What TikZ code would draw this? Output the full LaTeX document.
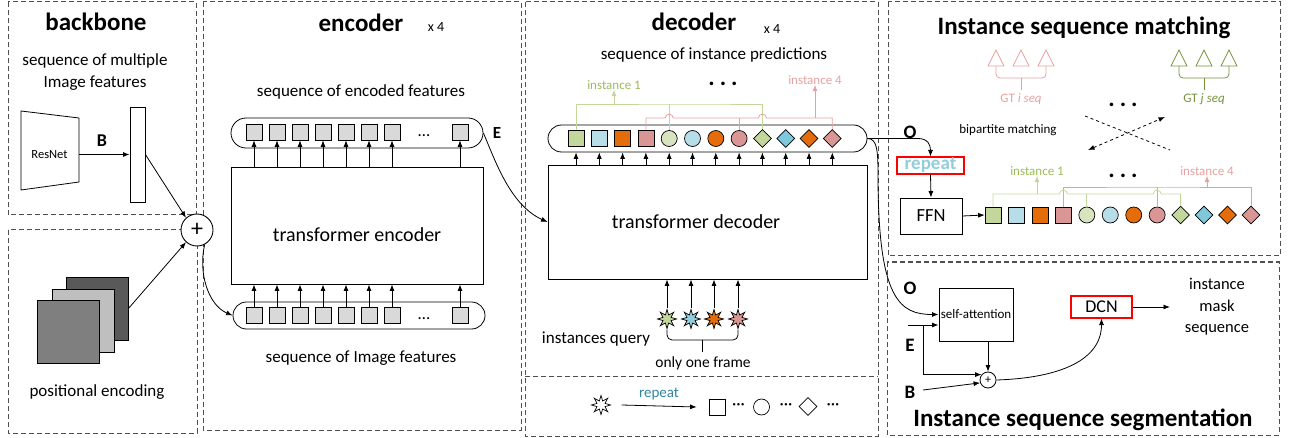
\documentclass[tikz,border=0pt]{standalone}
\usepackage{fontspec}
\setmainfont{Carlito}
\usetikzlibrary{shapes.geometric,arrows.meta,calc}
\definecolor{pedark}{HTML}{595959}
\definecolor{pemid}{HTML}{7F7F7F}
\definecolor{pelight}{HTML}{BFBFBF}
\definecolor{cellgray}{HTML}{D9D9D9}
\definecolor{cgreen}{HTML}{C3D69B}
\definecolor{clgreen}{HTML}{D7E4BD}
\definecolor{cblue}{HTML}{B7DEE8}
\definecolor{cdblue}{HTML}{7FC7DB}
\definecolor{corange}{HTML}{E46C0A}
\definecolor{cpink}{HTML}{D99694}
\definecolor{lgreenline}{HTML}{C3D69B}
\definecolor{tgreen}{HTML}{9BBB59}
\definecolor{dgreen}{HTML}{77933C}
\definecolor{lpink}{HTML}{E6A19F}
\definecolor{tteal}{HTML}{31859C}
\definecolor{trep}{HTML}{92CDDC}
\definecolor{panelgray}{HTML}{505050}
\tikzset{
 panel/.style={draw=panelgray, line width=1pt, dash pattern=on 5pt off 3pt},
 arr/.style={-{Latex[length=6.5pt,width=5pt]}, line width=0.8pt},
 ln/.style={line width=0.8pt},
 txt/.style={font=\fontsize{17}{20.5}\selectfont, inner sep=0pt},
 ttl/.style={font=\bfseries\fontsize{25}{30}\selectfont, inner sep=0pt},
 small/.style={font=\fontsize{13}{15}\selectfont, inner sep=0pt},
 lbl/.style={font=\bfseries\fontsize{19}{22}\selectfont, inner sep=0pt},
 dotsb/.style={font=\bfseries\fontsize{24}{24}\selectfont, inner sep=0pt},
 seqbox/.style={draw, line width=0.8pt, rounded corners=13.5pt, minimum width=#1, minimum height=27pt, inner sep=0pt},
 isq/.style={draw, fill=#1, rectangle, minimum size=16pt, inner sep=0pt, line width=0.7pt},
 icirc/.style={draw, fill=#1, circle, minimum size=16pt, inner sep=0pt, line width=0.7pt},
 idia/.style={draw, fill=#1, diamond, minimum size=18pt, inner sep=0pt, line width=0.7pt},
 qstar/.style={draw, fill=#1, star, star points=8, star point ratio=2.2, minimum size=19pt, inner sep=0pt, line width=0.7pt},
 boxn/.style={draw, line width=0.9pt, inner sep=0pt},
 redbox/.style={draw=red, line width=1.1pt, inner sep=0pt},
}
\begin{document}
\begin{tikzpicture}[x=1pt,y=-1pt]
\useasboundingbox (0,0) rectangle (1292,438);
% ---------- panels
\draw[panel] (8,2) rectangle (196,215);
\draw[panel] (8,230) rectangle (197,433);
\draw[panel] (203,2) rectangle (521,430);
\draw[panel] (525,2) rectangle (878,436);
\draw[panel] (525,376) -- (878,376);
\draw[panel] (888,2) rectangle (1280,256);
\draw[panel] (887,262) rectangle (1279,435);

% ---------- backbone
\node[ttl] (bbT) at (96,22) {backbone};
\node[txt, align=center] (bbS) at (95,72) {sequence of multiple\\[1pt]Image features};
\draw[ln] (21,111) -- (79,118) -- (79,182) -- (21,190) -- cycle;
\node[font=\fontsize{12.5}{15}\selectfont, inner sep=0pt] (resnet) at (49.5,155) {ResNet};
\coordinate (rnOut) at (79,154.5);
\node[boxn, minimum width=15pt, minimum height=95pt] (feat) at (137.5,154.5) {};
\draw[arr] (rnOut) -- (feat.west);
\node[font=\bfseries\fontsize{18}{20}\selectfont, inner sep=0pt] (labB) at (102,141) {B};

% ---------- positional encoding
\node[boxn, fill=pedark, minimum width=62pt, minimum height=63pt] (pe3) at (97,308.5) {};
\node[boxn, fill=pelight, minimum width=62pt, minimum height=63pt] (pe2) at (83,320.5) {};
\node[boxn, fill=pemid, minimum width=62pt, minimum height=63pt] (pe1) at (68,332) {};
\node[txt] (peT) at (97,392) {positional encoding};

\node[circle, draw, line width=0.9pt, fill=white, minimum size=32pt, inner sep=0pt, font=\fontsize{24}{24}\selectfont] (plus) at (197,230) {+};
\draw[arr] (feat.east) -- (plus.132);
\draw[arr] (pe3.east) -- (plus.228);

% ---------- encoder
\node[ttl] (encTitle) at (361,23) {encoder};
\node[font=\fontsize{14}{16}\selectfont, inner sep=0pt] (encX) at (436,27) {x 4};
\node[txt] (encS1) at (361,92) {sequence of encoded features};
\node[seqbox=252pt, minimum height=30pt, rounded corners=15pt] (encT) at (357,133) {};
\node[seqbox=252pt] (encB) at (359,315.5) {};
\foreach \i/\xx in {1/254,2/277,3/300,4/323,5/346,6/369,7/392,8/460}{
  \node[isq=cellgray] (et\i) at (\xx,132) {};
  \node[isq=cellgray] (eb\i) at (\xx,315.5) {};
}
\node[txt] (encD1) at (424,136) {\ldots};
\node[txt] (encD2) at (424,319) {\ldots};
\node[boxn, minimum width=252pt, minimum height=117pt] (encbox) at (357,225.5) {};
\node[font=\fontsize{20}{24}\selectfont, inner sep=0pt] (encTxt) at (357,235) {transformer encoder};
\foreach \i in {1,...,8}{
  \draw[arr] (encbox.north -| et\i) -- (et\i.south);
  \draw[arr] (eb\i.north) -- (eb\i.north |- encbox.south);
}
\node[txt] (encS2) at (361,358) {sequence of Image features};
\node[font=\bfseries\fontsize{17}{20}\selectfont, inner sep=0pt] (labE) at (497,133) {E};
\draw[arr] (plus.-62) .. controls (198,272) and (208,305) .. (encB.west);

% ---------- decoder
\node[ttl] (decTitle) at (694,22) {decoder};
\node[font=\fontsize{14}{16}\selectfont, inner sep=0pt] (decX) at (772,29) {x 4};
\node[txt] (decS1) at (714,55) {sequence of instance predictions};
\node[seqbox=319pt] (decseq) at (707.5,138.5) {};
\foreach \i/\xx/\c in {1/576/cgreen,2/599.3/cblue,3/622.6/corange,4/645.9/cpink}
  \node[isq=\c] (d\i) at (\xx,138.5) {};
\foreach \i/\xx/\c in {5/669.2/clgreen,6/692.5/cblue,7/715.8/corange,8/739.1/cpink}
  \node[icirc=\c] (d\i) at (\xx,138.5) {};
\foreach \i/\xx/\c in {9/762.4/cgreen,10/785.7/cdblue,11/809/corange,12/832.3/cpink}
  \node[idia=\c] (d\i) at (\xx,138.5) {};
\node[boxn, minimum width=319pt, minimum height=114pt] (decbox) at (707.5,222) {};
\node[font=\fontsize{20}{24}\selectfont, inner sep=0pt] (decTxt) at (696,222) {transformer decoder};
\foreach \i in {1,...,12}
  \draw[arr] (decbox.north -| d\i) -- (decseq.south -| d\i);
\draw[arr] (encT.east) .. controls (495,160) and (510,205) .. (decbox.west);

\coordinate (gY1) at (700,104);
\coordinate (pY1) at (700,118);
\node[small, text=tgreen] (dinst1) at (614,85) {instance 1};
\node[small, text=lpink] (dinst4) at (815,80) {instance 4};
\node[dotsb] (decDots) at (723,84) {.\hspace{5pt}.\hspace{5pt}.};
\draw[lgreenline, ln] (d1.north) |- (gY1) -| (d9.north);
\draw[lgreenline, ln] (d5.north) -- (d5.north |- gY1);
\draw[lgreenline, arr] (dinst1.south |- gY1) -- (dinst1.south);
\draw[lpink, ln] (d4.north) |- (665.2,118) .. controls (665.2,113) and (673.2,113) .. (673.2,118) -- (758.4,118) .. controls (758.4,113) and (766.4,113) .. (766.4,118) -| (d12.north);
\draw[lpink, ln] (d8.north) -- (d8.north |- pY1);
\draw[lpink, arr] (dinst4.south |- pY1) -- (dinst4.south);

\foreach \i/\xx/\c in {1/667/cgreen,2/691/trep,3/714/corange,4/738/cpink}{
  \node[qstar=\c] (q\i) at (\xx,319) {};
  \draw[arr] (q\i.north) -- (q\i.north |- decbox.south);
}
\draw[ln, rounded corners=5pt] (q1.south) -- (q1.south |- 0,340) -- (q4.south |- 0,340) -- (q4.south);
\coordinate (brTop) at (702.5,340);
\coordinate (brBot) at (702.5,352);
\draw[ln] (brTop) -- (brBot);
\node[txt] (iq) at (596,339) {instances query};
\node[font=\fontsize{15.5}{18}\selectfont, inner sep=0pt] (oof) at (703,363) {only one frame};

% bottom legend
\node[qstar=white] (wst) at (601,405) {};
\node[isq=white] (bsq) at (717,407) {};
\node[icirc=white] (bci) at (761.5,407) {};
\node[idia=white] (bdi) at (808,406.5) {};
\node[txt] (bd1) at (738.5,407) {···};
\node[txt] (bd2) at (786,407) {···};
\node[txt] (bd3) at (833,407) {···};
\draw[arr] ([xshift=10pt]wst.east) -- ([xshift=-12pt]bsq.west);
\node[font=\fontsize{15}{18}\selectfont, text=tteal, inner sep=0pt] (brep) at (659,394) {repeat};

% ---------- instance sequence matching
\node[ttl] (ismT) at (1084,28) {Instance sequence matching};
\foreach \xx in {996,1021,1046}
  \draw[lpink, ln] ({\xx-8},66) -- (\xx,50) -- ({\xx+8},66) -- cycle;
\foreach \xx in {1179,1204,1229}
  \draw[dgreen, ln] ({\xx-8},66) -- (\xx,50) -- ({\xx+8},66) -- cycle;
\draw[lpink, ln, rounded corners=4pt] (996,66) -- (996,78) -- (1046,78) -- (1046,66);
\draw[lpink, ln] (1021,78) -- (1021,90);
\draw[dgreen, ln, rounded corners=4pt] (1179,66) -- (1179,78) -- (1229,78) -- (1229,66);
\draw[dgreen, ln] (1204,78) -- (1204,90);
\node[small, text=lpink] (gti) at (1021,99) {GT \textit{i seq}};
\node[small, text=dgreen] (gtj) at (1204,99) {GT \textit{j seq}};
\node[dotsb] (ismDots1) at (1123,105) {.\hspace{5pt}.\hspace{5pt}.};
\coordinate (bm1) at (1085,116);
\coordinate (bm2) at (1170,150);
\coordinate (bm3) at (1088,150);
\coordinate (bm4) at (1165,117);
\draw[ln, dashed] (bm1) -- (bm2);
\draw[ln, dashed, {Latex[length=6.5pt,width=5pt]}-{Latex[length=6.5pt,width=5pt]}] (bm3) -- (bm4);
\node[small] (bip) at (1008,130) {bipartite matching};
\node[lbl] (labO1) at (910,132) {O};
\node[redbox, minimum width=67pt, minimum height=17pt, font=\bfseries\fontsize{19}{19}\selectfont, text=trep] (rep) at (930.5,165.5) {repeat};
\node[boxn, minimum width=62pt, minimum height=36pt, font=\fontsize{18.5}{20}\selectfont] (ffn) at (931,216) {FFN};
\draw[arr] (rep.south) -- (ffn.north);
\draw[arr] (decseq.east) -- (918,138.5) .. controls (928,138.5) and (930.5,145) .. (rep.north);

\foreach \i/\xx/\c in {1/993/cgreen,2/1016.45/cblue,3/1039.9/corange,4/1063.35/cpink}
  \node[isq=\c] (m\i) at (\xx,215) {};
\foreach \i/\xx/\c in {5/1086.8/clgreen,6/1110.25/cblue,7/1133.7/corange,8/1157.15/cpink}
  \node[icirc=\c] (m\i) at (\xx,215) {};
\foreach \i/\xx/\c in {9/1180.6/cgreen,10/1204.05/cdblue,11/1227.5/corange,12/1250.95/cpink}
  \node[idia=\c] (m\i) at (\xx,215) {};
\draw[arr] (ffn.east) -- (m1.west);
\coordinate (gY2) at (1100,194);
\coordinate (pY2) at (1150,187);
\node[small, text=tgreen] (minst1) at (1037,171) {instance 1};
\node[small, text=lpink] (minst4) at (1207,171) {instance 4};
\node[dotsb] (ismDots2) at (1123,176) {.\hspace{5pt}.\hspace{5pt}.};
\draw[lpink, ln] (m4.north) |- (pY2) -| (m12.north);
\draw[lpink, ln] (m8.north) -- (m8.north |- pY2);
\draw[lpink, arr] (minst4.south |- pY2) -- (minst4.south);
\draw[lgreenline, ln] (m1.north) |- (1059.35,194) .. controls (1059.35,189) and (1067.35,189) .. (1067.35,194) -- (1153.15,194) .. controls (1153.15,189) and (1161.15,189) .. (1161.15,194) -| (m9.north);
\draw[lgreenline, ln] (m5.north) -- (m5.north |- gY2);
\draw[lgreenline, arr] (minst1.south |- gY2) -- (minst1.south);

% ---------- instance sequence segmentation
\node[ttl] (issT) at (1083,420) {Instance sequence segmentation};
\node[lbl] (labO2) at (910,288) {O};
\node[lbl] (labE2) at (910,345) {E};
\node[lbl] (labB2) at (910,392) {B};
\node[boxn, minimum width=74pt, minimum height=53pt, font=\fontsize{13}{15}\selectfont] (sa) at (976,314.5) {self-attention};
\node[redbox, minimum width=61pt, minimum height=22pt, font=\fontsize{18}{20}\selectfont] (dcn) at (1101.5,307) {DCN};
\node[circle, draw, line width=0.8pt, minimum size=16pt, inner sep=0pt, font=\fontsize{12}{12}\selectfont] (ps) at (988,380) {+};
\node[font=\fontsize{16.5}{21.5}\selectfont, align=center, inner sep=0pt] (ims) at (1217,307) {instance\\mask\\sequence};
\draw[arr] (decseq.east) .. controls (877,138.5) and (878,150) .. (878,175) .. controls (878,300) and (900,314.5) .. (sa.west);
\coordinate (Ein) at (908,325);
\coordinate (Ebr) at (923,325);
\coordinate (Bin) at (923,390);
\draw[arr] (Ein) -- (Ein -| sa.west);
\draw[arr] (Ebr) |- (ps.140);
\draw[arr] (Bin) -- (ps.200);
\draw[arr] (sa.south -| ps.north) -- (ps.north);
\draw[arr] (ps.east) .. controls (1060,378) and (dcn.south |- 0,360) .. (dcn.south);
\coordinate (outEnd) at (1170,307);
\draw[arr] (dcn.east) -- (outEnd);
\end{tikzpicture}
\end{document}
